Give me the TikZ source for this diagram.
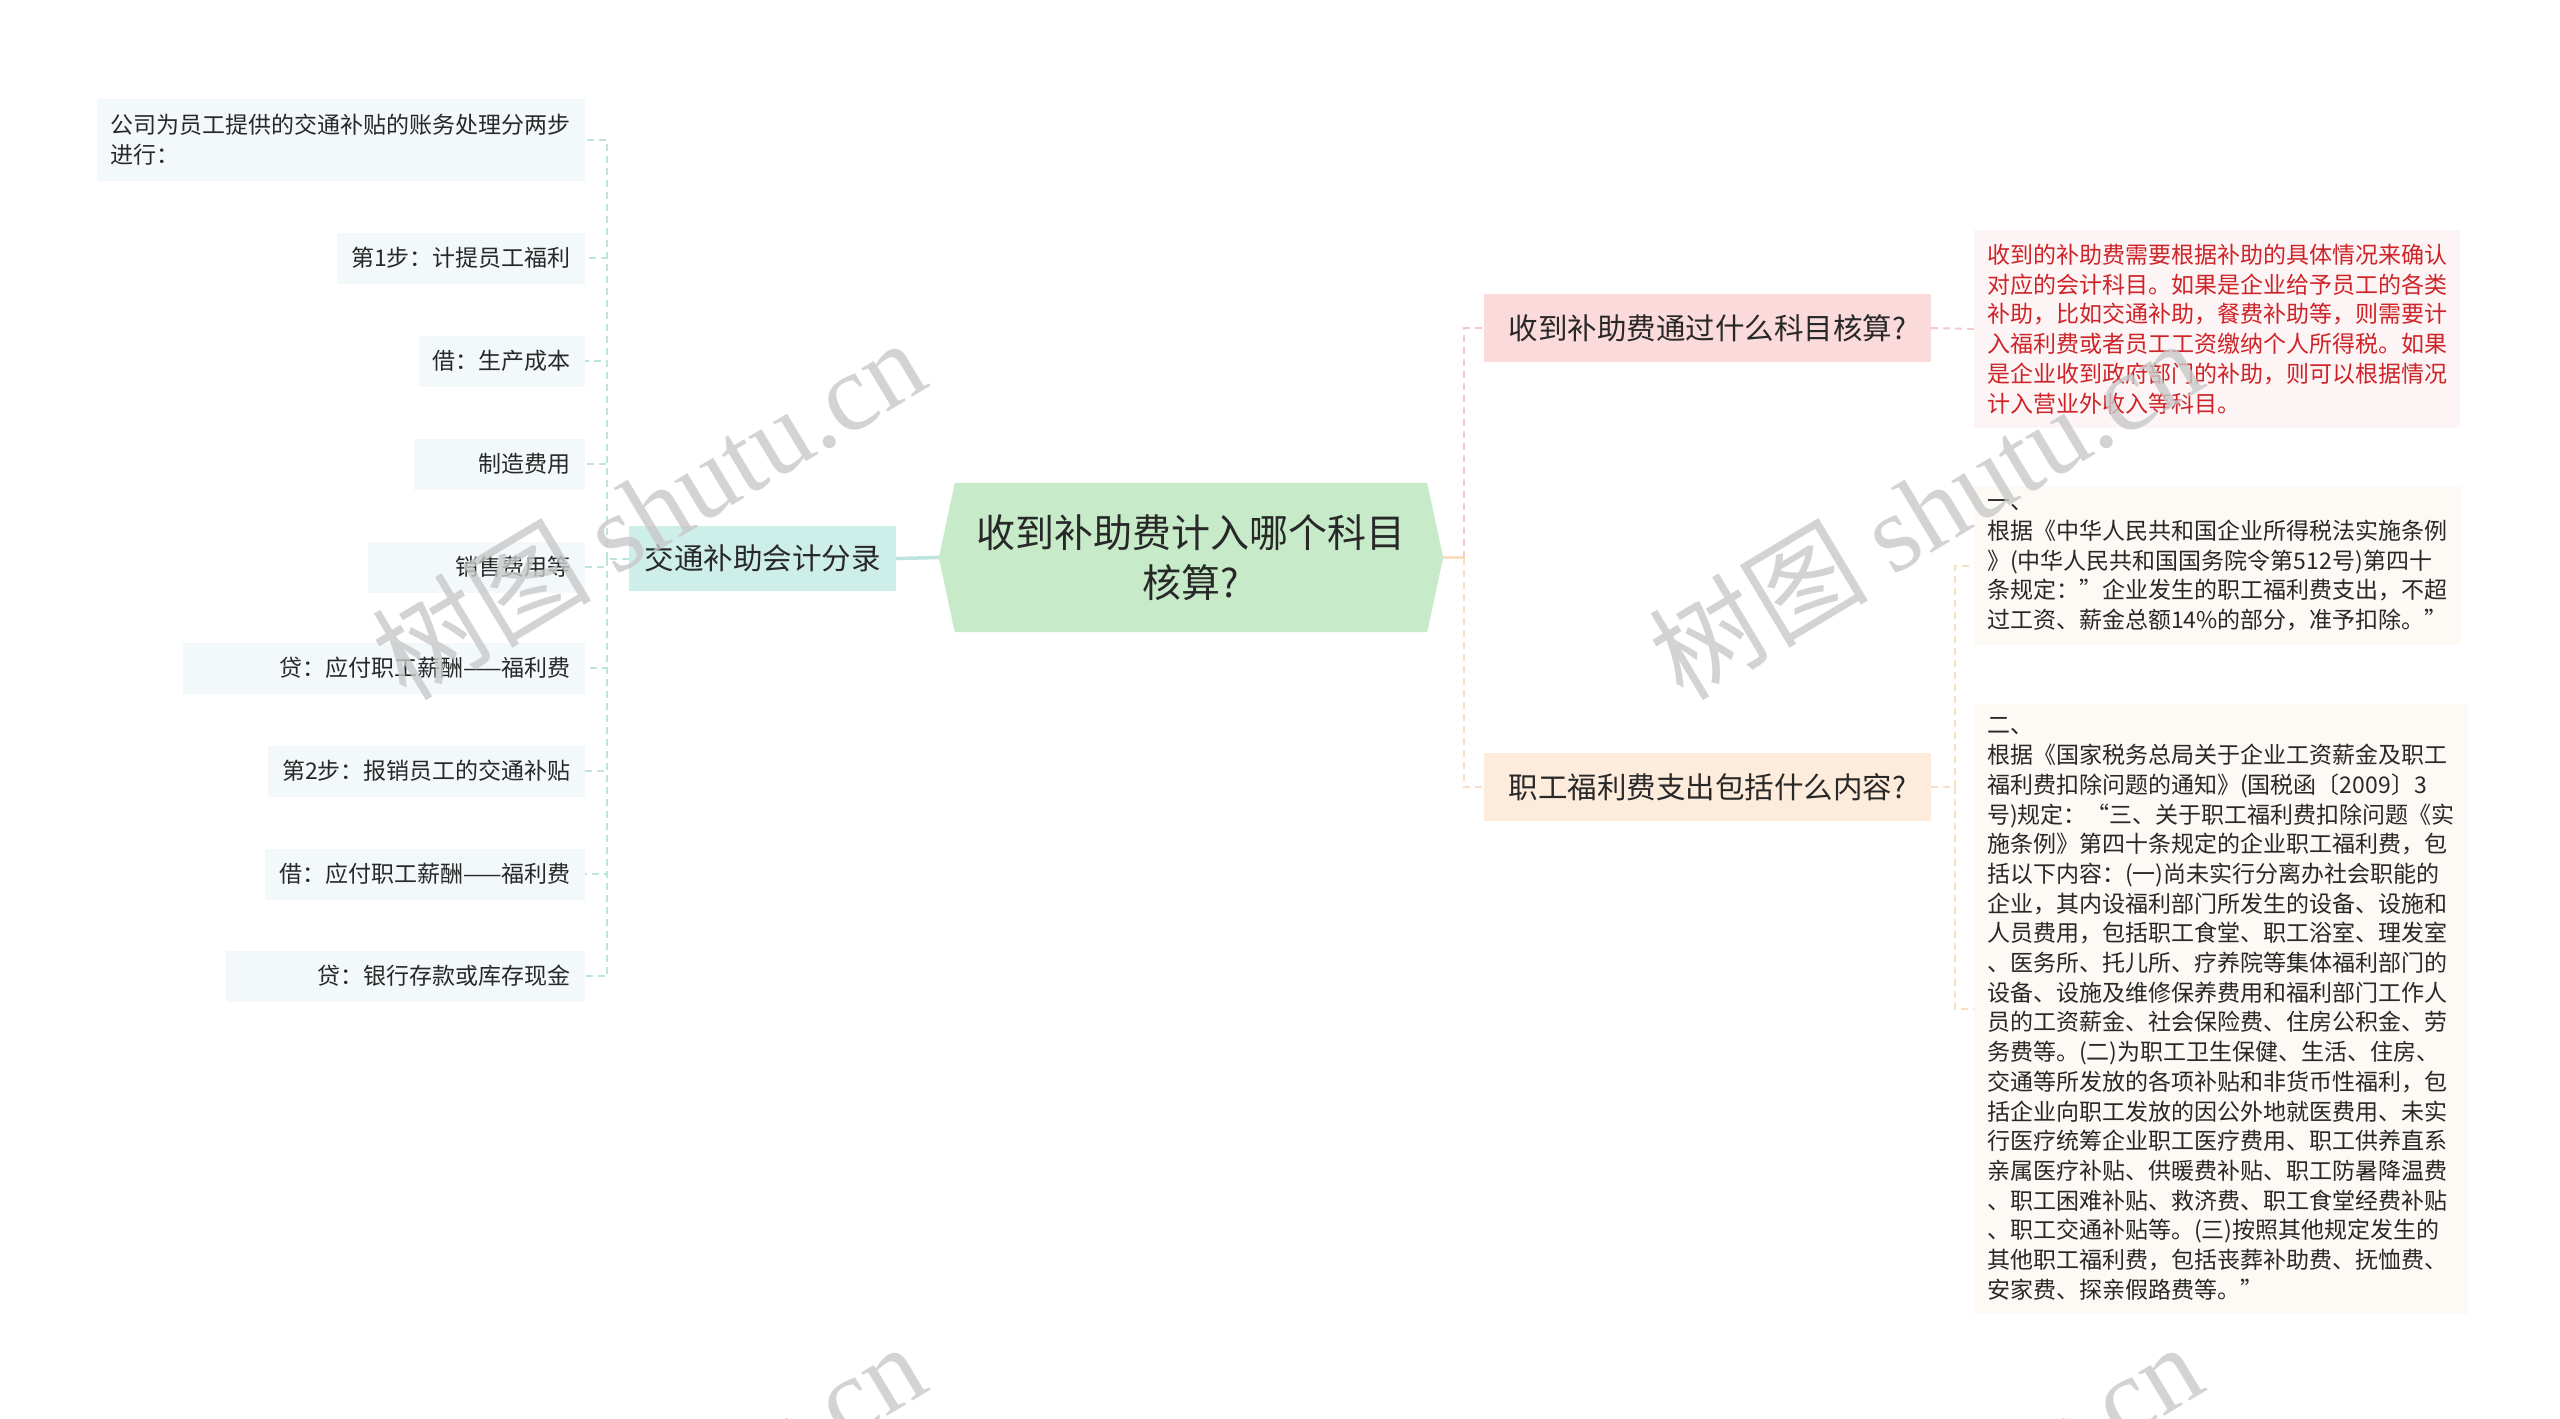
\documentclass[tikz,border=0pt]{standalone}
\usepackage{fontspec}
\setmainfont{Noto Sans CJK SC}
\newfontfamily\wmlatin{Liberation Serif}
\usetikzlibrary{backgrounds}
\definecolor{rootfill}{RGB}{199,235,201}
\definecolor{jtfill}{RGB}{206,239,233}
\definecolor{leaffill}{RGB}{243,249,250}
\definecolor{pinkfill}{RGB}{251,218,219}
\definecolor{peachfill}{RGB}{253,236,220}
\definecolor{redbg}{RGB}{253,245,245}
\definecolor{creambg}{RGB}{253,250,245}
\definecolor{redtext}{RGB}{206,35,40}
\definecolor{darktext}{RGB}{40,40,40}
\definecolor{lineteal}{RGB}{190,228,222}
\definecolor{linepink}{RGB}{245,200,202}
\definecolor{linepeach}{RGB}{250,222,194}
\definecolor{wmgray}{RGB}{200,200,200}
\begin{document}
\begin{tikzpicture}[x=1pt,y=-1pt,
  rootq/.style={minimum width=504pt,minimum height=149pt,inner sep=0pt,align=center,
    font=\fontsize{39}{50}\selectfont,text=darktext},
  jtbox/.style={fill=jtfill,minimum width=267pt,minimum height=65pt,inner sep=0pt,
    font=\fontsize{29.5}{36}\selectfont,text=darktext},
  midq/.style={minimum width=447pt,minimum height=68pt,inner sep=0pt,
    font=\fontsize{29.5}{36}\selectfont,text=darktext},
  leafL/.style={fill=leaffill,anchor=east,minimum height=51pt,inner xsep=14pt,inner ysep=0pt,
    font=\fontsize{23}{29.7}\selectfont,text=darktext},
  wideleaf/.style={text width=#1,align=right},
  ansbox/.style={anchor=west,align=left,inner xsep=13pt,inner ysep=14pt,
    font=\fontsize{23}{29.7}\selectfont,text=darktext},
  lnT/.style={draw=lineteal,line width=2pt,dash pattern=on 7pt off 5pt},
  lnP/.style={draw=linepink,line width=2pt,dash pattern=on 7pt off 5pt},
  lnO/.style={draw=linepeach,line width=2pt,dash pattern=on 7pt off 5pt},
  wmark/.style={text=wmgray,opacity=0.8,font=\fontsize{110}{110}\selectfont,rotate=31,inner sep=0pt}
]
\useasboundingbox (0,0) rectangle (2560,1419);

% root
\node[rootq] (root) at (1191,557.5) {收到补助费计入哪个科目\\核算?};
\begin{scope}[on background layer]
\fill[rootfill] ([xshift=16pt]root.north west) -- ([xshift=-16pt]root.north east) -- (root.east)
  -- ([xshift=-16pt]root.south east) -- ([xshift=16pt]root.south west) -- (root.west) -- cycle;
\end{scope}

% left branch
\node[jtbox] (jt) at (762.5,558.5) {交通补助会计分录};
\node[leafL,align=left,minimum width=488pt,inner ysep=15pt] (L1) at (585,140) {公司为员工提供的交通补贴的账务处理分两步\\进行：};
\node[leafL] (L2) at (585,258) {第1步：计提员工福利};
\node[leafL] (L3) at (585,361) {借：生产成本};
\node[leafL,wideleaf=143pt] (L4) at (585,464) {制造费用};
\node[leafL,wideleaf=189pt] (L5) at (585,567) {销售费用等};
\node[leafL,wideleaf=374pt] (L6) at (585,668) {贷：应付职工薪酬——福利费};
\node[leafL] (L7) at (585,771) {第2步：报销员工的交通补贴};
\node[leafL] (L8) at (585,874) {借：应付职工薪酬——福利费};
\node[leafL,wideleaf=331pt] (L9) at (585,976) {贷：银行存款或库存现金};

% right branch
\node[midq,fill=pinkfill] (q1) at (1707.5,328) {收到补助费通过什么科目核算?};
\node[midq,fill=peachfill] (q2) at (1707.5,787) {职工福利费支出包括什么内容?};

\node[ansbox,fill=redbg,text=redtext] (a1) at (1974,329) {收到的补助费需要根据补助的具体情况来确认\\对应的会计科目。如果是企业给予员工的各类\\补助，比如交通补助，餐费补助等，则需要计\\入福利费或者员工工资缴纳个人所得税。如果\\是企业收到政府部门的补助，则可以根据情况\\计入营业外收入等科目。};
\node[ansbox,fill=creambg,minimum width=486pt] (a2) at (1974,565.5) {一、\\根据《中华人民共和国企业所得税法实施条例\\》(中华人民共和国国务院令第512号)第四十\\条规定：”企业发生的职工福利费支出，不超\\过工资、薪金总额14\%的部分，准予扣除。”};
\node[ansbox,fill=creambg,minimum width=486pt] (a3) at (1974,1009) {二、\\根据《国家税务总局关于企业工资薪金及职工\\福利费扣除问题的通知》(国税函〔2009〕3\\号)规定：“三、关于职工福利费扣除问题《实\\施条例》第四十条规定的企业职工福利费，包\\括以下内容：(一)尚未实行分离办社会职能的\\企业，其内设福利部门所发生的设备、设施和\\人员费用，包括职工食堂、职工浴室、理发室\\、医务所、托儿所、疗养院等集体福利部门的\\设备、设施及维修保养费用和福利部门工作人\\员的工资薪金、社会保险费、住房公积金、劳\\务费等。(二)为职工卫生保健、生活、住房、\\交通等所发放的各项补贴和非货币性福利，包\\括企业向职工发放的因公外地就医费用、未实\\行医疗统筹企业职工医疗费用、职工供养直系\\亲属医疗补贴、供暖费补贴、职工防暑降温费\\、职工困难补贴、救济费、职工食堂经费补贴\\、职工交通补贴等。(三)按照其他规定发生的\\其他职工福利费，包括丧葬补助费、抚恤费、\\安家费、探亲假路费等。”};

% connectors
\begin{scope}[on background layer]
\draw[draw=lineteal,line width=3.5pt] (root.west) -- (jt.east);
\coordinate (lb) at (607,558.5);
\draw[lnT] (jt.west) -- (lb);
\foreach \n in {L1,L2,L3,L4,L5,L6,L7,L8,L9} {\draw[lnT] (lb) |- (\n.east);}
\coordinate (rb) at (1464,557.5);
\draw[draw=linepeach,line width=2.5pt] (root.east) -- (rb);
\draw[lnP] (rb) |- (q1.west);
\draw[lnO] (rb) |- (q2.west);
\draw[lnP] (q1.east) -- (a1.west);
\coordinate (rb2) at (1955,787);
\draw[lnO] (q2.east) -- (rb2);
\draw[lnO] (rb2) |- (a2.west);
\draw[lnO] (rb2) |- (a3.west);
\end{scope}

% watermarks
\node[wmark] (wm1) at (648,508) {树图 {\wmlatin shutu.cn}};
\node[wmark] (wm2) at (1925,508) {树图 {\wmlatin shutu.cn}};
\node[wmark] (wm3) at (648,1512) {树图 {\wmlatin shutu.cn}};
\node[wmark] (wm4) at (1925,1512) {树图 {\wmlatin shutu.cn}};
\end{tikzpicture}
\end{document}
